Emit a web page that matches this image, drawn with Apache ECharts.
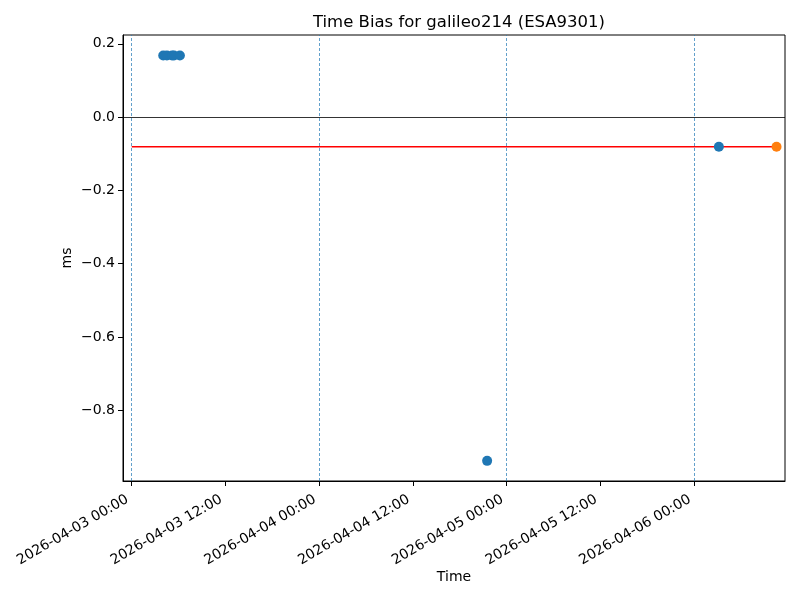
<!DOCTYPE html>
<html>
<head>
<meta charset="utf-8">
<script src="https://cdn.jsdelivr.net/npm/echarts@6/dist/echarts.min.js"></script>
<style>html,body{margin:0;padding:0;background:#fff}#c{width:800px;height:600px}</style>
</head>
<body>
<div id="c"></div>
<script>
// ---- data ----
const obsTimes = ['2026-04-03 04:02','2026-04-03 04:30','2026-04-03 05:10','2026-04-03 05:25','2026-04-03 06:10','2026-04-04 21:30','2026-04-06 03:10'];
const obsBias = [0.168, 0.168, 0.168, 0.168, 0.168, -0.938, -0.081];
const predTimes = ['2026-04-06 10:33'];
const predBias = [-0.081];
const meanLineTimes = ['2026-04-03 00:00','2026-04-06 10:33'];
const meanLineBias = [-0.081, -0.081];
const midnightLines = ['2026-04-03 00:00','2026-04-04 00:00','2026-04-05 00:00','2026-04-06 00:00'];
const xTickLabels = ['2026-04-03 00:00','2026-04-03 12:00','2026-04-04 00:00','2026-04-04 12:00','2026-04-05 00:00','2026-04-05 12:00','2026-04-06 00:00'];
const yTicks = [0.2, 0.0, -0.2, -0.4, -0.6, -0.8];
const xRange = ['2026-04-02 22:53','2026-04-06 11:38'];
const yRange = [-0.993, 0.224];

// ---- helpers ----
const BASE = Date.UTC(2026, 3, 3, 0, 0);
function hrs(s) {
  const m = s.match(/(\d+)-(\d+)-(\d+) (\d+):(\d+)/);
  return (Date.UTC(+m[1], +m[2]-1, +m[3], +m[4], +m[5]) - BASE) / 3.6e6;
}
const xTickVals = xTickLabels.map(hrs);
const labelMap = {};
xTickLabels.forEach((l, i) => { labelMap[xTickVals[i].toFixed(3)] = l; });

const font = 'DejaVu Sans';
const chart = echarts.init(document.getElementById('c'), null, {renderer: 'canvas'});
chart.setOption({
  backgroundColor: '#fff',
  animation: false,
  title: {
    text: 'Time Bias for galileo214 (ESA9301)',
    left: 454, top: 9, textAlign: 'center',
    textStyle: {fontFamily: font, fontSize: 16.5, fontWeight: 'normal', color: '#000'}
  },
  grid: {left: 123, right: 15, top: 35, bottom: 119, show: true, borderColor: '#000', borderWidth: 1, backgroundColor: 'transparent'},
  xAxis: {
    type: 'value',
    min: hrs(xRange[0]), max: hrs(xRange[1]),
    name: 'Time', nameLocation: 'middle', nameGap: 89, nameMoveOverlap: false,
    nameTextStyle: {fontFamily: font, fontSize: 14, color: '#000'},
    axisLine: {show: true, onZero: false, lineStyle: {color: '#000', width: 1}},
    axisTick: {show: true, length: 5, inside: false, customValues: xTickVals, lineStyle: {color: '#000'}},
    axisLabel: {
      customValues: xTickVals, rotate: 30, margin: 15, padding: [0, 5, 0, 0],
      fontFamily: font, fontSize: 14, color: '#000',
      formatter: v => labelMap[(+v).toFixed(3)] || ''
    },
    splitLine: {show: false}
  },
  yAxis: {
    type: 'value',
    min: yRange[0], max: yRange[1],
    name: 'ms', nameLocation: 'middle', nameGap: 49, nameMoveOverlap: false,
    nameTextStyle: {fontFamily: font, fontSize: 14, color: '#000'},
    axisLine: {show: true, onZero: false, lineStyle: {color: '#000', width: 1}},
    axisTick: {show: true, length: 5, inside: false, customValues: yTicks, lineStyle: {color: '#000'}},
    axisLabel: {
      customValues: yTicks, margin: 8,
      fontFamily: font, fontSize: 14, color: '#000',
      formatter: v => (v < -1e-9 ? '\u2212' : '') + Math.abs(v).toFixed(1)
    },
    splitLine: {show: false}
  },
  series: [
    {
      type: 'line', name: 'mean',
      data: meanLineTimes.map((t, i) => [hrs(t), meanLineBias[i]]),
      showSymbol: false, symbol: 'none',
      lineStyle: {color: '#ff0000', width: 1.5},
      z: 2,
      markLine: {
        silent: true, symbol: 'none', label: {show: false},
        data: [
          {yAxis: 0, lineStyle: {color: '#000', width: 0.8, type: 'solid', opacity: 1}}
        ].concat(midnightLines.map(t => ({xAxis: hrs(t), lineStyle: {color: '#1f77b4', width: 0.7, type: [3, 2], opacity: 1}})))
      }
    },
    {
      type: 'scatter', name: 'obs',
      data: obsTimes.map((t, i) => [hrs(t), obsBias[i]]),
      symbol: 'circle', symbolSize: 10,
      itemStyle: {color: '#1f77b4', opacity: 1},
      z: 3
    },
    {
      type: 'scatter', name: 'pred',
      data: predTimes.map((t, i) => [hrs(t), predBias[i]]),
      symbol: 'circle', symbolSize: 10,
      itemStyle: {color: '#ff7f0e', opacity: 1},
      z: 3
    }
  ]
});
</script>
</body>
</html>
